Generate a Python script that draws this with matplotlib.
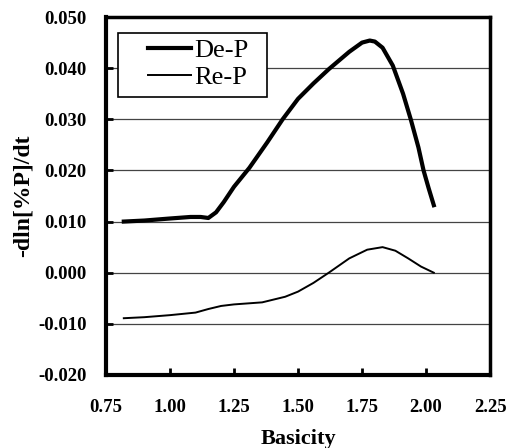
import matplotlib
matplotlib.use("Agg")
import matplotlib.pyplot as plt
from matplotlib.patches import Rectangle

# Data
dep_x = [0.82, 0.90, 1.00, 1.08, 1.12, 1.15, 1.18, 1.21, 1.25, 1.31, 1.38, 1.44, 1.50, 1.56, 1.62, 1.70, 1.75, 1.78, 1.80, 1.83, 1.87, 1.91, 1.94, 1.97, 1.99, 2.01, 2.03]
dep_y = [0.0100, 0.0102, 0.0106, 0.0109, 0.0109, 0.0107, 0.0118, 0.0138, 0.0168, 0.0205, 0.0255, 0.0300, 0.0340, 0.0370, 0.0398, 0.0432, 0.0450, 0.0454, 0.0452, 0.0440, 0.0405, 0.0350, 0.0300, 0.0245, 0.0200, 0.0165, 0.0132]

rep_x = [0.82, 0.90, 1.00, 1.10, 1.15, 1.20, 1.25, 1.36, 1.45, 1.50, 1.56, 1.62, 1.70, 1.77, 1.83, 1.88, 1.93, 1.98, 2.03]
rep_y = [-0.0089, -0.0087, -0.0083, -0.0078, -0.0071, -0.0065, -0.0062, -0.0058, -0.0047, -0.0037, -0.0020, 0.0000, 0.0028, 0.0045, 0.0050, 0.0043, 0.0028, 0.0012, 0.0000]

x_ticks = [0.75, 1.00, 1.25, 1.50, 1.75, 2.00, 2.25]
y_ticks = [-0.020, -0.010, 0.000, 0.010, 0.020, 0.030, 0.040, 0.050]

plt.rcParams['font.family'] = ['Liberation Serif', 'DejaVu Serif']

fig = plt.figure(figsize=(5.09, 4.48), dpi=100)
ax = fig.add_axes([0.208, 0.163, 0.755, 0.799])

for yv in y_ticks[1:-1]:
    ax.axhline(yv, color='#444444', lw=0.9, zorder=1)

ax.plot(dep_x, dep_y, color='black', lw=3.0, label='De-P', zorder=3)
ax.plot(rep_x, rep_y, color='black', lw=1.4, label='Re-P', zorder=3)

ax.set_xlim(0.75, 2.25)
ax.set_ylim(-0.020, 0.050)
ax.set_xticks(x_ticks)
ax.set_yticks(y_ticks)
ax.set_xticklabels([f"{v:.2f}" for v in x_ticks], fontsize=13.5, fontweight='bold')
ax.set_yticklabels([f"{v:.3f}" for v in y_ticks], fontsize=13.5, fontweight='bold')
ax.tick_params(direction='in', length=5, width=2)
ax.tick_params(axis='x', pad=17)
ax.tick_params(axis='y', pad=14)

for s in ['left', 'bottom']:
    ax.spines[s].set_linewidth(3)
ax.spines['right'].set_linewidth(2.5)
ax.spines['top'].set_linewidth(2.5)

ax.set_xlabel('Basicity', fontsize=16, fontweight='bold', labelpad=10)
ax.set_ylabel('-dln[%P]/dt', fontsize=17, fontweight='bold', labelpad=3)

# legend frame
ax.add_patch(Rectangle((0.031, 0.777), 0.388, 0.178, transform=ax.transAxes,
                       facecolor='white', edgecolor='black', lw=1.2, zorder=4))
leg = ax.legend(loc='upper left', bbox_to_anchor=(0.109, 0.94), fontsize=19, frameon=False,
                handlelength=1.64, borderpad=0, labelspacing=0.15, handletextpad=0.12,
                borderaxespad=0)
leg.set_zorder(5)

fig.savefig('out.png', dpi=100)
